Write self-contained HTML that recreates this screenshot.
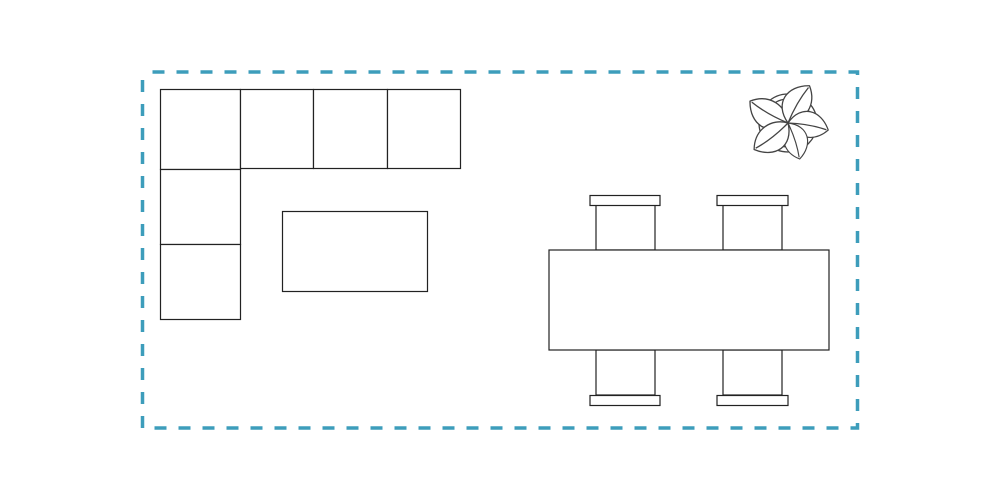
<!DOCTYPE html>
<html><head><style>html,body{margin:0;padding:0;background:#fff}svg{display:block}</style></head>
<body>
<svg width="1000" height="500" viewBox="0 0 1000 500" xmlns="http://www.w3.org/2000/svg">
<rect x="142.5" y="72" width="715" height="356" fill="none" stroke="#3d9dbb" stroke-width="3.5" stroke-dasharray="12 12" stroke-dashoffset="-10"/>
<g fill="#fff" stroke="#222" stroke-width="1.2">
<rect x="160.5" y="89.5" width="80" height="80"/>
<rect x="240.5" y="89.5" width="73" height="79"/>
<rect x="313.5" y="89.5" width="74" height="79"/>
<rect x="387.5" y="89.5" width="73" height="79"/>
<rect x="160.5" y="169.5" width="80" height="75"/>
<rect x="160.5" y="244.5" width="80" height="75"/>
<rect x="282.5" y="211.5" width="145" height="80"/>
<rect x="596" y="205" width="59" height="45"/>
<rect x="590" y="195.5" width="70" height="10"/>
<rect x="723" y="205" width="59" height="45"/>
<rect x="717" y="195.5" width="71" height="10"/>
<rect x="596" y="350" width="59" height="45"/>
<rect x="590" y="395.5" width="70" height="10"/>
<rect x="723" y="350" width="59" height="45"/>
<rect x="717" y="395.5" width="71" height="10"/>
<rect x="549" y="250" width="280" height="100"/>
</g>
<defs>
<g id="leaf">
<path d="M0 0 C10 -22 32 -20 43 0 C30 16 10 14 0 0Z"/>
<path d="M0 0 Q22 -3 41 0" fill="none"/>
</g>
</defs>
<g fill="#fff" stroke="#444" stroke-width="1.3" stroke-linejoin="round">
<circle cx="788" cy="123" r="29"/>
<circle cx="788" cy="123" r="24"/>
<use href="#leaf" transform="translate(788 123) rotate(210) scale(1.02)"/>
<use href="#leaf" transform="translate(788 123) rotate(-60) scale(1.0)"/>
<use href="#leaf" transform="translate(788 123) rotate(10) scale(0.95)"/>
<use href="#leaf" transform="translate(788 123) rotate(72) scale(0.88)"/>
<use href="#leaf" transform="translate(788 123) rotate(142) scale(1.0)"/>
</g>
</svg>
</body></html>
